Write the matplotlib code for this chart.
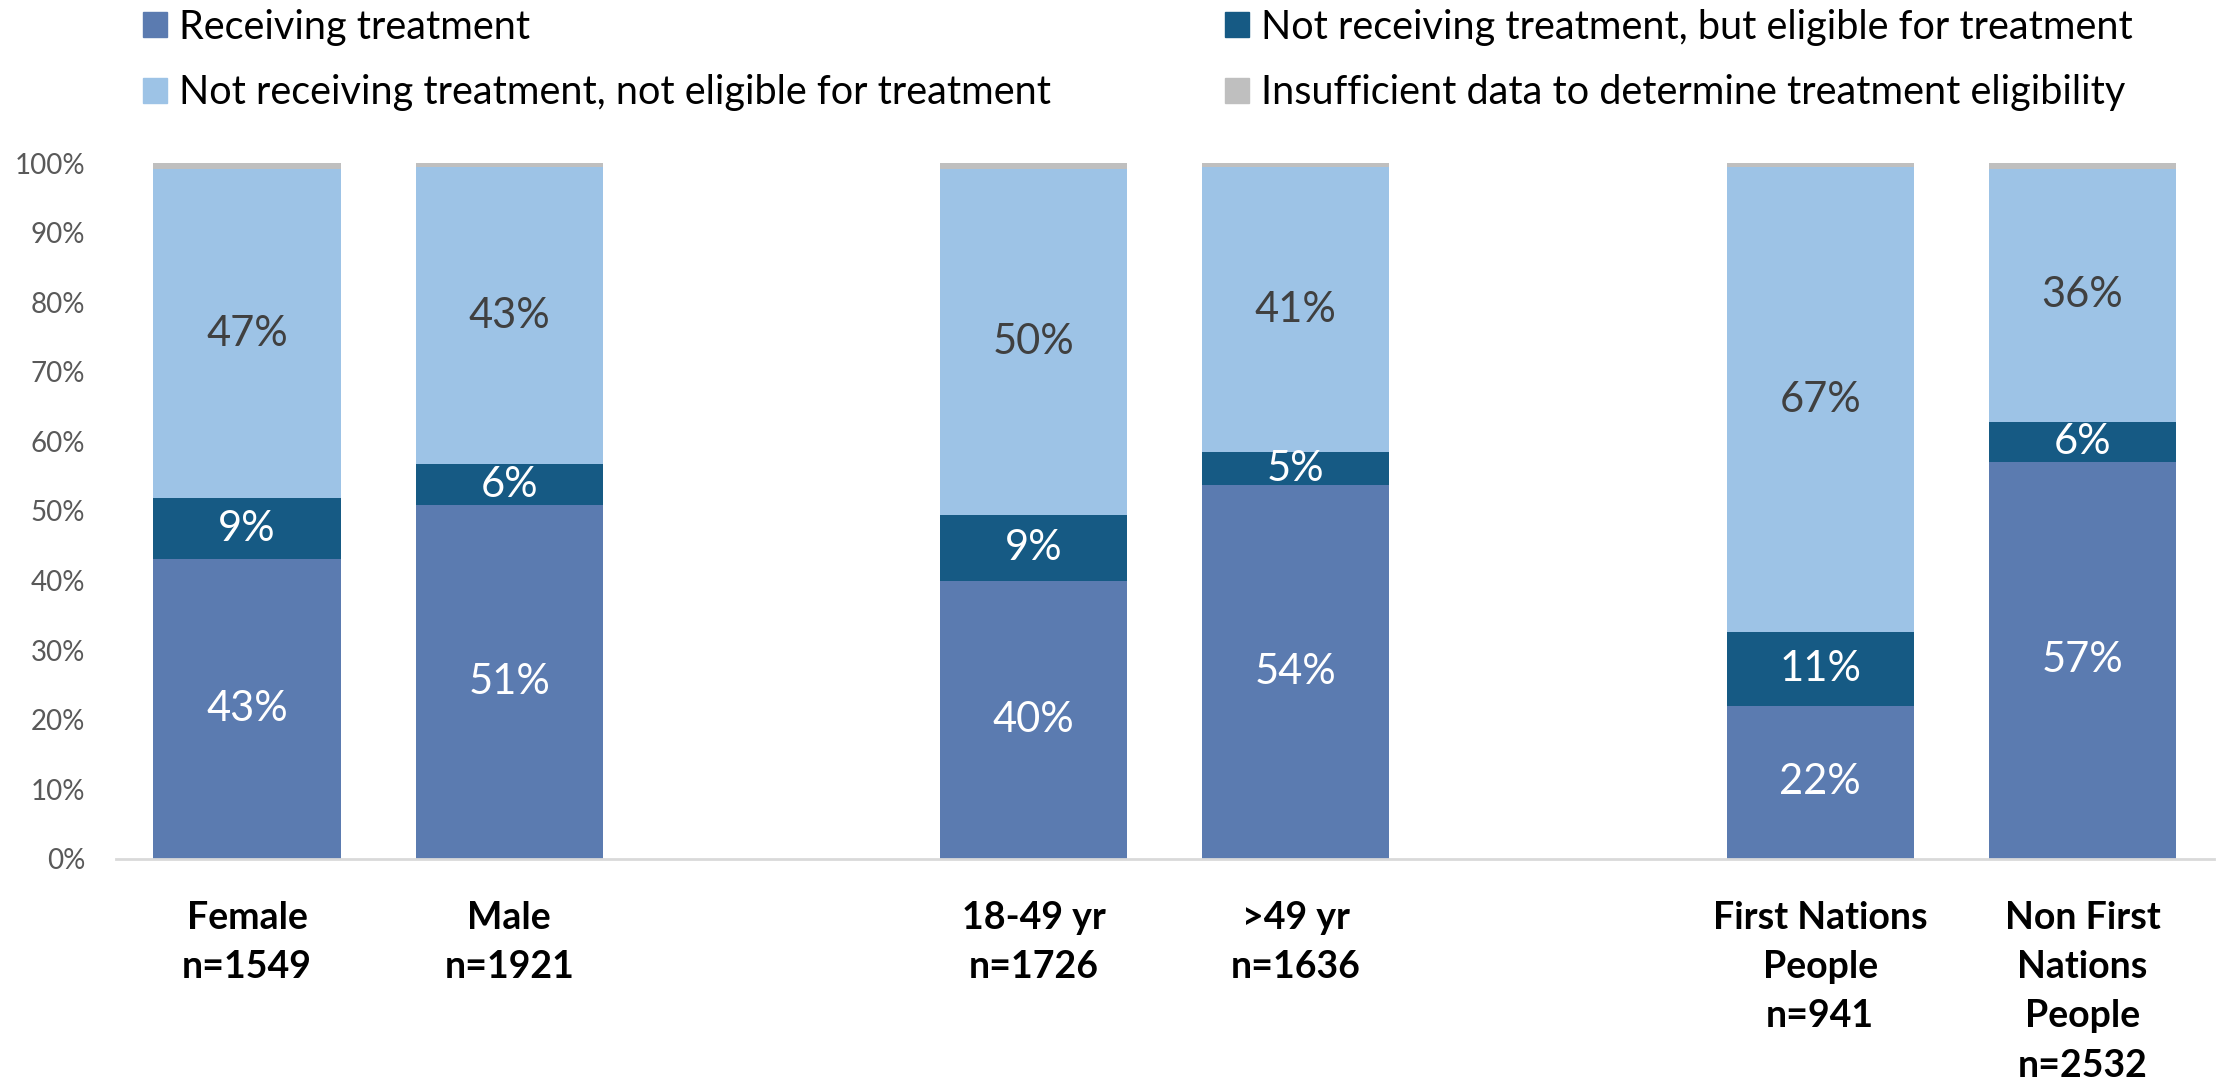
import matplotlib
matplotlib.use("Agg")
import matplotlib.pyplot as plt
import matplotlib.patches as mpatches
import numpy as np

plt.rcParams["font.family"] = ["Lato", "DejaVu Sans"]

# ── data (percent of each group) ─────────────────────────────────────────────
groups = ["Female\nn=1549", "Male\nn=1921", "18-49 yr\nn=1726", ">49 yr\nn=1636",
          "First Nations\nPeople\nn=941", "Non First\nNations\nPeople\nn=2532"]
slots = [0, 1, 3, 4, 6, 7]          # empty slots 2 and 5 separate the blocks

receiving = [43.1, 50.8, 40.0, 53.7, 22.0, 57.1]
eligible = [8.7, 5.9, 9.4, 4.8, 10.6, 5.7]
not_eligible = [47.4, 42.7, 49.8, 40.9, 66.8, 36.4]
insufficient = [0.8, 0.6, 0.8, 0.6, 0.6, 0.8]

series_names = ["Receiving treatment",
                "Not receiving treatment, but eligible for treatment",
                "Not receiving treatment, not eligible for treatment",
                "Insufficient data to determine treatment eligibility"]

# ── style ────────────────────────────────────────────────────────────────────
C_REC = "#5B7BB0"
C_ELI = "#165A84"
C_NOT = "#9DC3E6"
C_INS = "#BFBFBF"
series_cols = [C_REC, C_ELI, C_NOT, C_INS]
label_cols = ["white", "white", "#404040", None]

fig = plt.figure(figsize=(22.18, 10.87), dpi=100)
ax = fig.add_axes([0.0523, 0.2098, 0.9457, 0.6402])

width = 0.714
x = np.array(slots, dtype=float)
bottom = np.zeros(len(x))
for vals, col, lcol in zip([receiving, eligible, not_eligible, insufficient],
                           series_cols, label_cols):
    vals = np.array(vals)
    ax.bar(x, vals, width, bottom=bottom, color=col, edgecolor="none")
    if lcol is not None:
        for xi, b, v in zip(x, bottom, vals):
            ax.text(xi, b + v / 2, f"{round(v)}%", ha="center", va="center",
                    fontsize=30, color=lcol)
    bottom += vals

ax.set_xlim(-0.5, 7.5)
ax.set_ylim(0, 100)
ax.set_yticks(range(0, 101, 10))
ax.set_yticklabels([f"{t}%" for t in range(0, 101, 10)], fontsize=20, color="#595959")
ax.set_xticks(x)
ax.set_xticklabels(groups, fontsize=27, fontweight="bold", linespacing=1.55, va="top")
ax.tick_params(axis="both", length=0)
ax.tick_params(axis="x", pad=30)
ax.tick_params(axis="y", pad=22)
for s in ["top", "right", "left"]:
    ax.spines[s].set_visible(False)
ax.spines["bottom"].set_color("#D9D9D9")
ax.spines["bottom"].set_linewidth(2)

# ── legend: two columns placed separately ───────────────────────────────────
handles = [mpatches.Patch(color=c, label=n) for c, n in zip(series_cols, series_names)]
leg_kw = dict(loc="upper left", frameon=False, fontsize=28.5, handlelength=0.6,
              handleheight=0.6, handletextpad=0.3, labelspacing=0.72,
              borderaxespad=0, borderpad=0)
fig.legend(handles=[handles[0], handles[2]], bbox_to_anchor=(0.0645, 0.992), **leg_kw)
fig.legend(handles=[handles[1], handles[3]], bbox_to_anchor=(0.5523, 0.992), **leg_kw)

fig.savefig("out.png", dpi=100)
